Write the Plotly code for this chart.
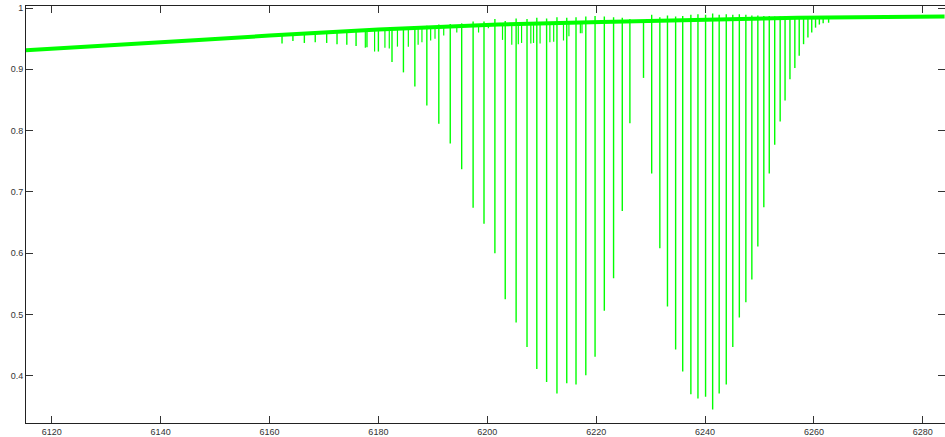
import numpy as np
import plotly.graph_objects as go

# Continuum
cont_wl = [6115, 6129, 6140, 6147, 6160, 6169, 6180, 6191, 6202, 6221, 6239, 6257, 6284]
cont_val = [0.931, 0.939, 0.944, 0.948, 0.955, 0.960, 0.965, 0.969, 0.973, 0.977, 0.980, 0.984, 0.986]

# Main absorption lines (left branch): centre, minimum, upper overshoot
left_wl = [6162.3, 6164.3, 6166.4, 6168.4, 6170.5, 6172.4, 6174.2, 6175.9, 6177.9, 6180.0,
           6182.5, 6184.6, 6186.7, 6188.9, 6191.1, 6193.2, 6195.3, 6197.4, 6199.4, 6201.4,
           6203.3, 6205.3, 6207.3, 6209.1, 6210.9, 6212.8, 6214.6, 6216.3, 6218.1, 6219.8,
           6221.5, 6223.2, 6224.8, 6226.2]
left_depth = [0.942, 0.946, 0.943, 0.944, 0.943, 0.941, 0.940, 0.938, 0.936, 0.929,
              0.912, 0.895, 0.872, 0.841, 0.811, 0.779, 0.737, 0.674, 0.648, 0.600,
              0.525, 0.487, 0.447, 0.411, 0.390, 0.371, 0.388, 0.386, 0.401, 0.431,
              0.506, 0.559, 0.669, 0.812]
left_top = [0.957, 0.958, 0.959, 0.960, 0.961, 0.962, 0.963, 0.964, 0.965, 0.966,
            0.968, 0.969, 0.970, 0.971, 0.973, 0.974, 0.975, 0.978, 0.978, 0.982,
            0.979, 0.983, 0.982, 0.984, 0.983, 0.985, 0.984, 0.985, 0.986, 0.987,
            0.986, 0.985, 0.984, 0.982]

# Main absorption lines (right branch)
right_wl = [6228.7, 6230.2, 6231.7, 6233.1, 6234.6, 6235.9, 6237.4, 6238.7, 6240.1, 6241.4,
            6242.6, 6243.9, 6245.1, 6246.3, 6247.5, 6248.6, 6249.7, 6250.8, 6251.8, 6252.8,
            6253.8, 6254.7, 6255.6, 6256.5, 6257.3, 6258.1, 6258.9, 6259.6, 6260.3, 6261.0,
            6261.7, 6262.7]
right_depth = [0.886, 0.730, 0.608, 0.513, 0.443, 0.407, 0.370, 0.363, 0.366, 0.345,
               0.371, 0.386, 0.447, 0.495, 0.520, 0.557, 0.611, 0.675, 0.730, 0.777,
               0.815, 0.849, 0.884, 0.902, 0.922, 0.941, 0.952, 0.960, 0.968, 0.973,
               0.975, 0.976]
right_top = [0.980, 0.989, 0.985, 0.988, 0.986, 0.987, 0.989, 0.990, 0.989, 0.991,
             0.989, 0.990, 0.989, 0.990, 0.989, 0.988, 0.988, 0.987, 0.987, 0.986,
             0.986, 0.986, 0.987, 0.986, 0.986, 0.985, 0.985, 0.985, 0.985, 0.985,
             0.985, 0.985]

# Weak interleaved lines
weak_wl = [6177.6, 6179.3, 6181.2, 6182.0, 6183.5, 6185.5, 6187.3, 6188.0, 6189.6, 6190.4,
           6192.0, 6194.4, 6198.4, 6200.2, 6202.8, 6204.5, 6205.7, 6206.3, 6208.0, 6208.5,
           6209.7, 6211.5, 6212.2, 6214.0, 6215.0, 6217.1, 6217.4]
weak_depth = [0.935, 0.929, 0.935, 0.934, 0.937, 0.937, 0.940, 0.944, 0.947, 0.950,
              0.955, 0.960, 0.960, 0.967, 0.948, 0.940, 0.941, 0.943, 0.942, 0.943,
              0.942, 0.944, 0.945, 0.947, 0.954, 0.959, 0.959]

x_ticks = [6120, 6140, 6160, 6180, 6200, 6220, 6240, 6260, 6280]
y_ticks = [0.4, 0.5, 0.6, 0.7, 0.8, 0.9, 1.0]
y_labels = ["0.4", "0.5", "0.6", "0.7", "0.8", "0.9", "1"]

GREEN = "#00ff00"

def spikes(wls, depths, tops=None):
    xs, ys = [], []
    for i, (w, d) in enumerate(zip(wls, depths)):
        base = float(np.interp(w, cont_wl, cont_val))
        top = base if tops is None else max(base, tops[i])
        xs += [w, w, None]
        ys += [top, d, None]
    return xs, ys

fig = go.Figure()
fig.add_trace(go.Scatter(x=cont_wl, y=cont_val, mode="lines",
                         line=dict(color=GREEN, width=4), hoverinfo="skip"))
for wls, ds, tops, w in [(weak_wl, weak_depth, None, 1.2),
                         (left_wl, left_depth, left_top, 1.4),
                         (right_wl, right_depth, right_top, 1.4)]:
    xs, ys = spikes(wls, ds, tops)
    fig.add_trace(go.Scatter(x=xs, y=ys, mode="lines", connectgaps=False,
                             line=dict(color=GREEN, width=w), hoverinfo="skip"))

axis_common = dict(showline=True, linecolor="#222", linewidth=1, mirror="ticks",
                   ticks="inside", ticklen=7, tickcolor="#333", showgrid=False,
                   zeroline=False, automargin=False,
                   tickfont=dict(family="Liberation Sans, Arial", size=9, color="#333"))
fig.update_xaxes(range=[6115.27, 6284.08], tickvals=x_ticks,
                 ticktext=[str(v) for v in x_ticks], **axis_common)
fig.update_yaxes(range=[0.323, 1.0033], tickvals=y_ticks, ticktext=y_labels, **axis_common)
fig.update_layout(width=945, height=437, margin=dict(l=26, r=0, t=6, b=14),
                  showlegend=False, plot_bgcolor="white", paper_bgcolor="white")
fig.write_html("out.html", config={"displayModeBar": False},
               post_script="document.body.style.margin='0';document.body.style.overflow='hidden';")
